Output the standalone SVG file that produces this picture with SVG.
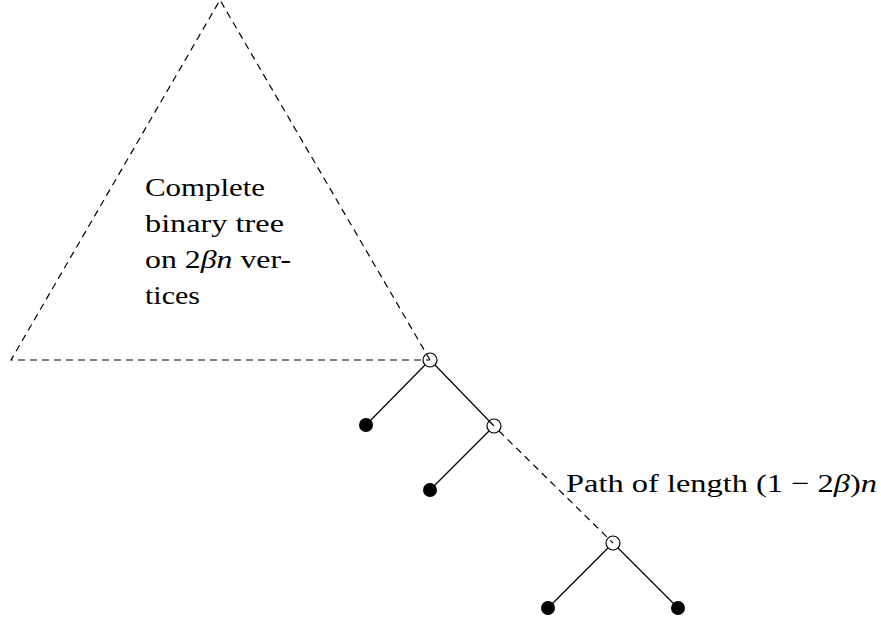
<svg xmlns="http://www.w3.org/2000/svg" width="881" height="623" viewBox="0 0 881 623">
<style>
.s{stroke:#000;stroke-width:1.2;fill:none}
.d{stroke:#000;stroke-width:1.2;fill:none;stroke-dasharray:7 5}
.o{stroke:#000;stroke-width:1.2;fill:none}
.f{fill:#000}
text{font-family:"Liberation Serif","Times New Roman",serif;font-size:26px;fill:#000}
.i{font-style:italic}
</style>
<g id="connectors">
<path class="d" d="M430,360 L220,0 L11,360 L430,360"/>
<line class="s" x1="425" y1="365" x2="366" y2="425"/>
<line class="s" x1="435" y1="365" x2="494" y2="426"/>
<line class="s" x1="489" y1="431" x2="430" y2="490"/>
<line class="d" x1="499" y1="431" x2="613" y2="543"/>
<line class="s" x1="608" y1="548" x2="548" y2="608"/>
<line class="s" x1="618" y1="548" x2="678" y2="608"/>
</g>
<g id="triangle-label">
<text x="145" y="196" textLength="120" lengthAdjust="spacingAndGlyphs">Complete</text>
<text x="145" y="232" textLength="139" lengthAdjust="spacingAndGlyphs">binary tree</text>
<text x="145" y="268" textLength="146" lengthAdjust="spacingAndGlyphs">on 2<tspan class="i">βn</tspan> ver-</text>
<text x="145" y="304" textLength="55" lengthAdjust="spacingAndGlyphs">tices</text>
</g>
<g id="n-root"><circle class="o" cx="430" cy="360" r="7"/></g>
<g id="n-leaf1"><circle class="f" cx="366" cy="425" r="7"/></g>
<g id="n-b"><circle class="o" cx="494" cy="426" r="7"/></g>
<g id="n-leaf2"><circle class="f" cx="430" cy="490" r="7"/></g>
<g id="n-c"><circle class="o" cx="613" cy="543" r="7"/></g>
<g id="n-leaf3"><circle class="f" cx="548" cy="608" r="7"/></g>
<g id="n-leaf4"><circle class="f" cx="678" cy="608" r="7"/></g>
<g id="path-label">
<text x="566" y="492" textLength="311" lengthAdjust="spacingAndGlyphs">Path of length (1 − 2<tspan class="i">β</tspan>)<tspan class="i">n</tspan></text>
</g>
</svg>
